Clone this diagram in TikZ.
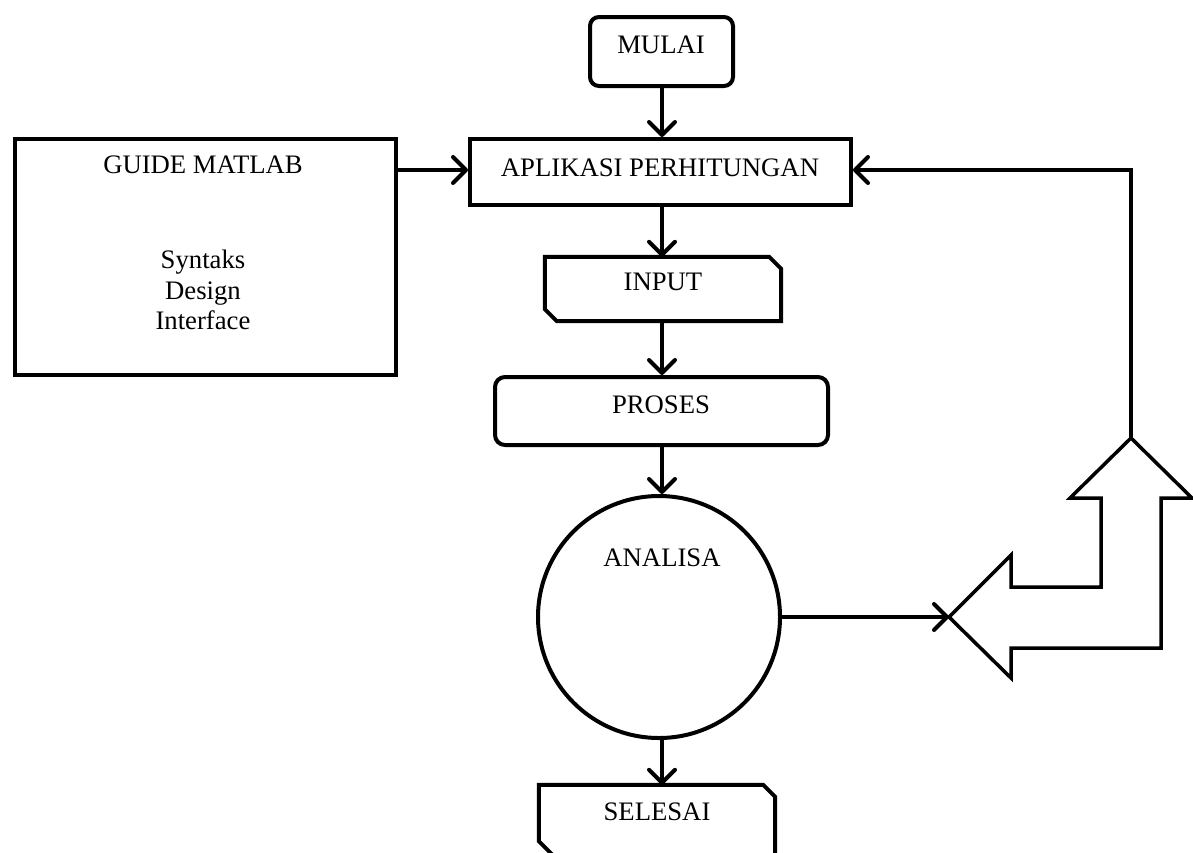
\documentclass[tikz,border=0pt]{standalone}
\usepackage{fontspec}
\setmainfont{Liberation Serif}
\usetikzlibrary{arrows.meta}
\begin{document}
\begin{tikzpicture}[x=1pt,y=-1pt,
  every node/.style={font=\fontsize{26.7pt}{30.7pt}\selectfont},
  shp/.style={draw, line width=4pt, inner sep=0pt},
  rbox/.style={shp, rounded corners=#1},
  ghost/.style={inner sep=0pt, draw=none},
  chline/.style={line width=4pt, line join=miter},
  arr/.style={line width=4pt, -{Straight Barb[length=13pt,width=26pt,round]}},
  lbl/.style={inner sep=0pt, align=center}]
\useasboundingbox (0,0) rectangle (1193,852);
\clip (0,0) rectangle (1193,852);
% boxes
\node[rbox=9pt, minimum width=143pt, minimum height=69pt] (mulai) at (661.5,51.5) {};
\node[shp, minimum width=381pt, minimum height=66pt] (aplikasi) at (660.5,172) {};
\node[shp, minimum width=381pt, minimum height=236pt] (guide) at (205.5,257) {};
\node[ghost, minimum width=236pt, minimum height=64pt] (input) at (663,289) {};
\draw[chline] (input.north west) -- ([xshift=-12pt]input.north east) -- ([yshift=-12pt]input.north east)
  -- (input.south east) -- ([xshift=12pt]input.south west) -- ([yshift=12pt]input.south west) -- cycle;
\node[rbox=10pt, minimum width=333pt, minimum height=68pt] (proses) at (661.5,411) {};
\node[shp, circle, minimum size=242pt] (analisa) at (659,617) {};
\node[ghost, minimum width=236pt, minimum height=70pt] (selesai) at (657,820) {};
\draw[chline] (selesai.north west) -- ([xshift=-12pt]selesai.north east) -- ([yshift=-12pt]selesai.north east)
  -- (selesai.south east) -- ([xshift=14pt]selesai.south west) -- ([yshift=14pt]selesai.south west) -- cycle;
% texts
\node[lbl] (tmulai) at (661,45) {MULAI};
\node[lbl] (taplikasi) at (660,168) {APLIKASI PERHITUNGAN};
\node[lbl] (tguide) at (203,165) {GUIDE MATLAB};
\node[lbl] (tguide2) at (203,290) {Syntaks\\Design\\Interface};
\node[lbl] (tinput) at (663,282) {INPUT};
\node[lbl] (tproses) at (661,405) {PROSES};
\node[lbl] (tanalisa) at (662,558) {ANALISA};
\node[lbl] (tselesai) at (657,812) {SELESAI};
% bent block arrow
\coordinate (btip) at (949,617);
\coordinate (bup) at (1131,438);
\draw[line width=3.5pt, line join=miter]
  (btip) -- (1011,555) -- (1011,587) -- (1101,587) -- (1101,498) -- (1070,498)
  -- (bup) -- (1192,498) -- (1161,498) -- (1161,648) -- (1011,648) -- (1011,678) -- cycle;
% connectors
\draw[arr] (mulai.south -| 662,0) -- (662,0 |- aplikasi.north);
\draw[arr] (aplikasi.south -| 662,0) -- (662,0 |- input.north);
\draw[arr] (input.south -| 662,0) -- (662,0 |- proses.north);
\draw[arr] (proses.south -| 662,0) -- (662,0 |- analisa.north);
\draw[arr] (analisa.south -| 662,0) -- (662,0 |- selesai.north);
\draw[arr] (guide.east |- 0,170) -- (aplikasi.west |- 0,170);
\draw[arr] (analisa.east) -- (btip);
\draw[arr, line join=miter] (bup) -- (1131,170) -- (aplikasi.east |- 0,170);
\end{tikzpicture}
\end{document}
